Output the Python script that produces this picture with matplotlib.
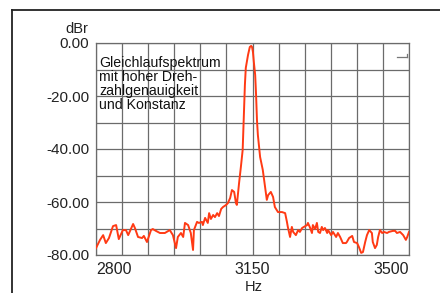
import matplotlib
matplotlib.use("Agg")
import matplotlib.pyplot as plt
from matplotlib.lines import Line2D

plt.rcParams['font.family'] = ['Liberation Sans', 'DejaVu Sans']
plt.rcParams['axes.unicode_minus'] = False

freq_hz = [2800, 2809, 2816, 2822, 2829, 2838, 2845, 2851, 2860, 2867, 2872, 2883, 2887,
           2894, 2903, 2907, 2914, 2923, 2927, 2934, 2943, 2954, 2965, 2972, 2979, 2983,
           2990, 2995, 2999, 3006, 3012, 3017, 3019, 3026, 3030, 3037, 3039, 3044, 3050,
           3053, 3057, 3062, 3066, 3071, 3075, 3080, 3084, 3091, 3095, 3100, 3104, 3109,
           3113, 3115, 3120, 3124, 3128, 3130, 3133, 3135, 3140, 3144, 3147, 3149, 3151,
           3153, 3156, 3158, 3160, 3162, 3167, 3173, 3178, 3182, 3185, 3191, 3196, 3200,
           3207, 3216, 3223, 3227, 3229, 3234, 3238, 3241, 3247, 3252, 3256, 3261, 3265,
           3272, 3274, 3279, 3283, 3285, 3290, 3294, 3297, 3301, 3305, 3308, 3312, 3317,
           3319, 3326, 3330, 3337, 3341, 3346, 3352, 3359, 3361, 3366, 3373, 3377, 3384,
           3388, 3393, 3397, 3402, 3406, 3411, 3417, 3419, 3424, 3428, 3431, 3435, 3440,
           3444, 3451, 3455, 3464, 3469, 3473, 3480, 3487, 3493, 3496, 3500]
level_dbr = [-77.4, -74.3, -72.5, -75.5, -73.6, -69.1, -68.7, -74.0, -70.6, -70.6, -72.5, -68.3, -69.8,
             -73.2, -73.6, -72.8, -75.1, -70.6, -70.2, -70.9, -71.7, -71.7, -70.6, -72.5, -77.4, -73.2,
             -71.7, -73.2, -67.9, -68.7, -71.7, -78.1, -70.6, -67.5, -67.9, -67.5, -68.7, -66.0, -67.9,
             -64.2, -66.4, -64.9, -65.7, -64.2, -65.3, -62.6, -61.9, -61.1, -60.4, -58.5, -55.5, -56.2,
             -60.4, -61.1, -52.8, -46.8, -40.4, -30.9, -15.8, -9.4, -4.5, -1.5, -1.1, -1.5, -3.4,
             -7.2, -12.1, -19.6, -29.1, -34.7, -43.0, -47.9, -54.3, -59.2, -57.4, -56.2, -58.1, -61.9,
             -63.8, -63.8, -64.2, -67.5, -69.4, -73.2, -69.4, -71.3, -72.5, -70.6, -71.3, -69.8, -69.4,
             -68.7, -67.9, -69.8, -71.7, -68.7, -70.2, -67.9, -71.3, -71.7, -69.4, -70.6, -69.8, -71.7,
             -70.6, -72.5, -71.3, -73.2, -71.7, -73.2, -75.5, -75.5, -75.1, -73.6, -72.8, -75.1, -75.5,
             -77.0, -79.2, -78.9, -75.1, -72.5, -70.6, -71.7, -75.1, -77.4, -76.2, -73.2, -70.6, -71.7,
             -71.3, -71.7, -71.3, -70.9, -70.9, -71.7, -71.3, -72.5, -74.3, -73.2, -71.3]

x_min, x_max = 2800, 3500
x_labels = {2800: '2800', 3150: '3150', 3500: '3500'}
y_ticks = [0, -10, -20, -30, -40, -50, -60, -70, -80]
y_labeled = [0, -20, -40, -60, -80]
x_unit = 'Hz'
y_unit = 'dBr'
note = 'Gleichlaufspektrum\nmit hoher Dreh-\nzahlgenauigkeit\nund Konstanz'

fig = plt.figure(figsize=(4.4, 2.93), dpi=100)
ax = fig.add_axes([96/440, 38/293, 313/440, 212/293])

grid_col = '#6b6b6b'
ax.plot(freq_hz, level_dbr, color='#ff3a14', lw=1.4, zorder=3, solid_joinstyle='round')

ax.set_xlim(x_min, x_max)
ax.set_ylim(-80, 0)
step = (x_max - x_min) / 12
xt = [x_min + i * step for i in range(13)]
ax.set_xticks(xt)
ax.set_xticklabels([''] * 13)
ax.set_yticks(y_ticks)
ax.set_yticklabels(['%.2f' % v if v in y_labeled else '' for v in y_ticks], fontsize=11, color='#222222')
ax.tick_params(length=0, pad=5)
ax.grid(True, color=grid_col, lw=0.9)
ax.set_axisbelow(True)
for s in ax.spines.values():
    s.set_color(grid_col)
    s.set_linewidth(0.9)

for v, lab in x_labels.items():
    ha = 'left' if v == x_min else ('right' if v == x_max else 'center')
    ax.text(v, -0.035, lab, transform=ax.get_xaxis_transform(), ha=ha, va='top',
            fontsize=11.5, color='#222222')
ax.text(3152, -0.12, x_unit, transform=ax.get_xaxis_transform(), ha='center', va='top',
        fontsize=10.5, color='#222222')
ax.text(-0.06, 1.035, y_unit, transform=ax.transAxes, ha='center', va='bottom',
        fontsize=10.5, color='#222222')

ax.text(0.01, 0.94, note, transform=ax.transAxes, ha='left', va='top',
        fontsize=10.2, linespacing=1.0, color='#111111')

# small corner mark
ax.add_line(Line2D([0.962, 0.994], [0.934, 0.934], transform=ax.transAxes, color='#777777', lw=0.9, clip_on=False))
ax.add_line(Line2D([0.994, 0.994], [0.934, 0.950], transform=ax.transAxes, color='#777777', lw=0.9, clip_on=False))

# outer frame
fig.add_artist(Line2D([12/440, 1.0], [1 - 10/293, 1 - 10/293], transform=fig.transFigure, color='#222222', lw=1.3))
fig.add_artist(Line2D([12/440, 12/440], [0, 1 - 10/293], transform=fig.transFigure, color='#222222', lw=1.3))

fig.savefig('out.png', dpi=100)
